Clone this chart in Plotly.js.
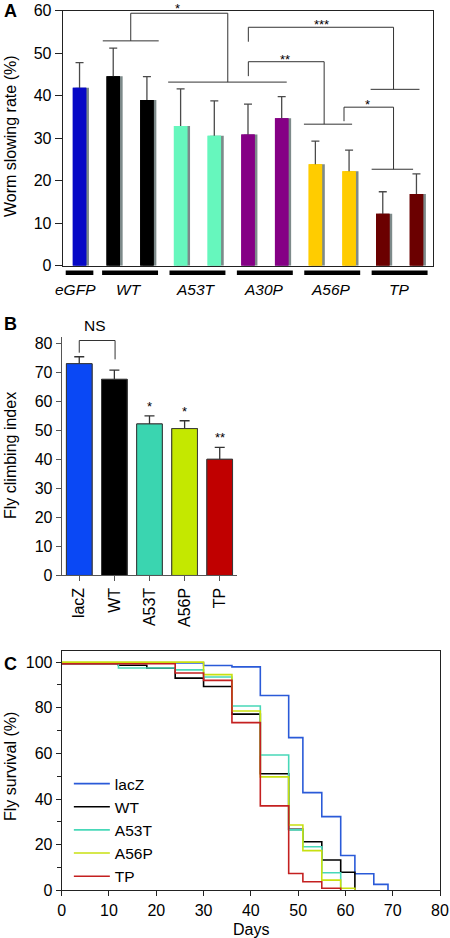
<!DOCTYPE html>
<html><head><meta charset="utf-8">
<script src="https://cdn.plot.ly/plotly-3.0.1.min.js"></script>
<style>html,body{margin:0;padding:0;background:#fff}#chart{width:450px;height:938px}</style>
</head><body><div id="chart"></div>
<script>
// ---------- Panel A: worm slowing rate ----------
const wormGroups = ['eGFP', 'WT', 'A53T', 'A30P', 'A56P', 'TP'];
const wormBarGroup = [0, 1, 1, 2, 2, 3, 3, 4, 4, 5, 5];
const wormRate = [41.9, 44.6, 39.0, 32.9, 30.6, 30.9, 34.7, 23.9, 22.2, 12.2, 16.9];
const wormErr = [5.9, 6.6, 5.5, 8.7, 8.2, 7.1, 5.1, 5.4, 5.0, 5.2, 4.7];

// ---------- Panel B: fly climbing index ----------
const flyLines = ['lacZ', 'WT', 'A53T', 'A56P', 'TP'];
const climbIndex = [73.1, 67.7, 52.3, 50.7, 40.1];
const climbErr = [2.4, 3.2, 2.8, 2.7, 4.1];
const climbSig = ['', '', '*', '*', '**'];

// ---------- Panel C: fly survival (step curves) ----------
const survLabels = ['lacZ', 'WT', 'A53T', 'A56P', 'TP'];
const lacZDays = [0, 30, 36, 42, 48, 51, 55, 59, 62, 66, 69];
const lacZSurv = [99.6, 98.5, 97.9, 85.4, 66.9, 42.8, 32.3, 15.3, 7.3, 2.6, 0];
const wtDays = [0, 12, 18, 24, 30, 36, 42, 48, 51, 55, 59, 62];
const wtSurv = [99.3, 98.6, 97.3, 93.0, 89.3, 77.2, 51.1, 26.7, 21.3, 13.3, 7.9, 0];
const a53tDays = [0, 12, 24, 30, 36, 42, 48, 51, 55, 59];
const a53tSurv = [99.5, 97.4, 96.6, 93.5, 80.8, 59.3, 26.5, 19.1, 7.7, 0];
const a56pDays = [0, 30, 36, 42, 48, 51, 55, 59, 62];
const a56pSurv = [100, 94.5, 78.6, 49.7, 28.6, 17.4, 4.5, 0.9, 0];
const tpDays = [0, 24, 30, 36, 42, 48, 51, 55, 59];
const tpSurv = [99.3, 95.2, 92.0, 73.5, 37.0, 7.4, 3.8, 0.9, 0];

// ---------- styles ----------
const FONT = 'Liberation Sans, Arial, Helvetica, sans-serif';
const wormGroupColors = ['#0608c6', '#000000', '#66f7bd', '#850085', '#ffcc00', '#6b0000'];
const climbColors = ['#0a48f5', '#000000', '#3ad5b0', '#c4e800', '#c00000'];
const survColors = ['#2a5ad8', '#000000', '#48d8b8', '#c8e010', '#c42020'];

const wormX = wormRate.map((_, i) => i);
const wormColors = wormBarGroup.map(g => wormGroupColors[g]);
const climbX = climbIndex.map((_, i) => i);

const traces = [];
// A: shadow bars, bars with error bars, cover bars (hide lower half of error bars)
traces.push({type: 'bar', x: wormX, y: wormRate, xaxis: 'x', yaxis: 'y', width: 0.4, offset: -0.12,
  marker: {color: '#7d8a8a'}, showlegend: false, hoverinfo: 'skip'});
traces.push({type: 'bar', x: wormX, y: wormRate, xaxis: 'x', yaxis: 'y', width: 0.4, offset: -0.2,
  marker: {color: wormColors}, showlegend: false, hoverinfo: 'skip',
  error_y: {type: 'data', array: wormErr, symmetric: true, color: '#4a4a4a', thickness: 1.3, width: 4}});
traces.push({type: 'bar', x: wormX, y: wormRate, xaxis: 'x', yaxis: 'y', width: 0.4, offset: -0.2,
  marker: {color: wormColors}, showlegend: false, hoverinfo: 'skip'});

// B
traces.push({type: 'bar', x: climbX, y: climbIndex, xaxis: 'x2', yaxis: 'y2', width: 0.73,
  marker: {color: climbColors, line: {color: '#3a3a3a', width: 1}}, showlegend: false, hoverinfo: 'skip',
  error_y: {type: 'data', array: climbErr, symmetric: true, color: '#333', thickness: 1.3, width: 5}});
traces.push({type: 'bar', x: climbX, y: climbIndex, xaxis: 'x2', yaxis: 'y2', width: 0.73,
  marker: {color: climbColors, line: {color: '#3a3a3a', width: 1}}, showlegend: false, hoverinfo: 'skip'});

// C
const survDays = [lacZDays, wtDays, a53tDays, a56pDays, tpDays];
const survVals = [lacZSurv, wtSurv, a53tSurv, a56pSurv, tpSurv];
survLabels.forEach((name, i) => {
  traces.push({type: 'scatter', mode: 'lines', name: name, x: survDays[i], y: survVals[i],
    xaxis: 'x3', yaxis: 'y3', line: {shape: 'hv', color: survColors[i], width: 1.6}, hoverinfo: 'skip'});
});

// ---------- annotations & shapes ----------
const ann = [];
const shapes = [];
const px2py = p => 1 - p / 938;
const TITLE = 16;

// panel letters
[['A', 11], ['B', 324], ['C', 664]].forEach(([t, y]) => {
  ann.push({text: '<b>' + t + '</b>', xref: 'paper', yref: 'paper', x: 2 / 450, y: px2py(y),
    xanchor: 'left', yanchor: 'middle', showarrow: false, font: {size: 18, family: FONT, color: '#000'}});
});
// axis titles
ann.push({text: 'Worm slowing rate (%)', textangle: -90, xref: 'paper', yref: 'paper', x: 10 / 450, y: px2py(136),
  xanchor: 'center', yanchor: 'middle', showarrow: false, font: {size: TITLE, family: FONT, color: '#000'}});
ann.push({text: 'Fly climbing index', textangle: -90, xref: 'paper', yref: 'paper', x: 10 / 450, y: px2py(456),
  xanchor: 'center', yanchor: 'middle', showarrow: false, font: {size: TITLE, family: FONT, color: '#000'}});
ann.push({text: 'Fly survival (%)', textangle: -90, xref: 'paper', yref: 'paper', x: 10 / 450, y: px2py(767),
  xanchor: 'center', yanchor: 'middle', showarrow: false, font: {size: TITLE, family: FONT, color: '#000'}});
ann.push({text: 'Days', xref: 'x3', yref: 'paper', x: 40, y: px2py(929),
  xanchor: 'center', yanchor: 'middle', showarrow: false, font: {size: TITLE, family: FONT, color: '#000'}});

// A: group bars and italic labels under the axis
wormGroups.forEach((g, gi) => {
  const idx = wormBarGroup.map((v, i) => v === gi ? i : -1).filter(i => i >= 0);
  const lo = Math.min(...idx), hi = Math.max(...idx);
  const pad = idx.length > 1 ? 0.33 : 0.41;
  shapes.push({type: 'rect', xref: 'x', yref: 'paper', x0: lo - pad, x1: hi + pad,
    y0: px2py(275), y1: px2py(270.5), fillcolor: '#000', line: {width: 0}});
  ann.push({text: '<i>' + g + '</i>', xref: 'x', yref: 'paper', x: (lo + hi) / 2 - (idx.length > 1 ? 0.03 : 0.12), y: px2py(289),
    xanchor: 'center', yanchor: 'middle', showarrow: false, font: {size: 15.5, family: FONT, color: '#000'}});
});
// A: significance brackets
const brk = {type: 'path', xref: 'x', yref: 'y', line: {color: '#333', width: 1}};
shapes.push(Object.assign({}, brk, {path: 'M0.69,52.9 L2.35,52.9 M1.52,52.9 L1.52,59.4 L4.40,59.4 L4.40,43.2 M2.63,43.2 L6.15,43.2'}));
shapes.push(Object.assign({}, brk, {path: 'M5.01,44.6 L5.01,48 L7.26,48 L7.26,33.3 M6.66,33.3 L8.09,33.3'}));
shapes.push(Object.assign({}, brk, {path: 'M5.01,52.7 L5.01,56.1 L9.32,56.1 L9.32,41.5 M8.64,41.5 L10.09,41.5'}));
shapes.push(Object.assign({}, brk, {path: 'M7.85,34 L7.85,37.3 L9.32,37.3 L9.32,22.7 M8.67,22.7 L9.9,22.7'}));
[['*', 2.9, 58.2], ['**', 6.1, 46.4], ['***', 7.17, 54.4], ['*', 8.55, 35.6]].forEach(([t, x, y]) => {
  ann.push({text: t, xref: 'x', yref: 'y', x: x, y: y, xanchor: 'center', yanchor: 'bottom', showarrow: false,
    font: {size: 13, family: FONT, color: '#000'}});
});

// B: NS bracket + stars
shapes.push({type: 'path', xref: 'x2', yref: 'y2', line: {color: '#333', width: 1},
  path: 'M0,76.9 L0,81.1 L1.02,81.1 L1.02,74.6'});
ann.push({text: 'NS', xref: 'x2', yref: 'paper', x: 0.45, y: px2py(325), xanchor: 'center', yanchor: 'middle', showarrow: false,
  font: {size: 15.5, family: FONT, color: '#000'}});
climbSig.forEach((s, i) => {
  if (!s) return;
  ann.push({text: s, xref: 'x2', yref: 'y2', x: i, y: climbIndex[i] + climbErr[i], xanchor: 'center', yanchor: 'bottom',
    showarrow: false, font: {size: 13, family: FONT, color: '#000'}});
});

const axBase = {showgrid: false, zeroline: false, showline: true, linewidth: 1,
  tickfont: {size: 16, family: FONT, color: '#000'}, fixedrange: true};

const layout = {
  width: 450, height: 938,
  margin: {l: 0, r: 0, t: 0, b: 0},
  paper_bgcolor: '#fff', plot_bgcolor: '#fff',
  font: {family: FONT, color: '#000'},
  barmode: 'overlay',
  showlegend: true,
  legend: {x: 0.153, y: px2py(767), xanchor: 'left', yanchor: 'top', bgcolor: 'rgba(0,0,0,0)',
    font: {size: 15.5, family: FONT, color: '#000'}, itemwidth: 36},
  xaxis: Object.assign({}, axBase, {domain: [0.1393, 0.9629], range: [-0.5, 10.5], anchor: 'y',
    linecolor: '#222', mirror: true, showticklabels: false, ticks: ''}),
  yaxis: Object.assign({}, axBase, {domain: [0.7167, 0.9886], range: [0, 60], anchor: 'x', dtick: 10, tick0: 0,
    ticks: 'outside', ticklen: 7, tickcolor: '#222', linecolor: '#222', mirror: true}),
  xaxis2: Object.assign({}, axBase, {domain: [0.1371, 0.5273], range: [-0.5, 4.5], anchor: 'y2',
    tickmode: 'array', tickvals: climbX, ticktext: flyLines, tickangle: -90, ticks: 'outside', ticklen: 5,
    tickcolor: '#555', linecolor: '#555'}),
  yaxis2: Object.assign({}, axBase, {domain: [0.3865, 0.6410], range: [0, 82.4], anchor: 'x2', dtick: 10, tick0: 0,
    ticks: 'outside', ticklen: 5, tickcolor: '#555', linecolor: '#555'}),
  xaxis3: Object.assign({}, axBase, {domain: [0.1371, 0.9778], range: [0, 80], anchor: 'y3', dtick: 10, tick0: 0,
    ticks: 'outside', ticklen: 5, tickcolor: '#222', linecolor: '#222', mirror: true}),
  yaxis3: Object.assign({}, axBase, {domain: [0.0508, 0.3063], range: [0, 105], anchor: 'x3', dtick: 20, tick0: 0,
    ticks: 'outside', ticklen: 5, tickcolor: '#222', linecolor: '#222', mirror: true,
    minor: {dtick: 10, tick0: 0, ticks: 'outside', ticklen: 4, tickcolor: '#222'}}),
  annotations: ann,
  shapes: shapes
};

Plotly.newPlot('chart', traces, layout, {staticPlot: true, displayModeBar: false});
</script>
</body></html>
